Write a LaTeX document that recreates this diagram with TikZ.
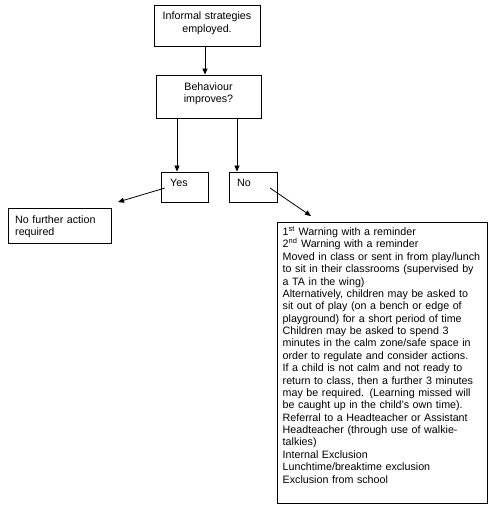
\documentclass[tikz,border=0pt]{standalone}
\usepackage{fontspec}
\setmainfont{Liberation Sans}
\usetikzlibrary{arrows.meta}
\begin{document}
\begin{tikzpicture}[x=1pt,y=-1pt,
  box/.style={draw=black,line width=0.9pt,inner sep=0pt,fill=white},
  txt/.style={inner sep=0pt,font=\fontsize{10.7}{12.375}\selectfont},
  arr/.style={draw=black,line width=0.8pt,-{Triangle[length=6pt,width=5pt]}}]
\useasboundingbox (0,0) rectangle (495,513);
\fill[white] (0,0) rectangle (495,513);
% boxes
\node[box,minimum width=106,minimum height=41] (b1) at (207,25.5) {};
\node[box,minimum width=105,minimum height=43] (b2) at (208.5,96.5) {};
\node[box,minimum width=47,minimum height=30] (yes) at (184.5,187) {};
\node[box,minimum width=48,minimum height=30] (no) at (253,187) {};
\node[box,minimum width=103,minimum height=35] (nfa) at (59.5,225.5) {};
\node[box,minimum width=210,minimum height=281] (big) at (382,362.5) {};
% texts
\node[txt,text width=104,align=center,anchor=base] (t1) at (207,20) {Informal strategies\\employed.};
\node[txt,text width=104,align=center,anchor=base] (t2) at (208.5,90.5) {Behaviour\\improves?};
\node[txt,anchor=base west] (ty) at (170,186) {Yes};
\node[txt,anchor=base west] (tn) at (237,186) {No};
\node[txt,text width=100,align=left,anchor=base west] (tnfa) at (15,223) {No further action\\required};
\node[txt,text width=205,align=left,anchor=base west] (tbig) at (282.5,235.5) {1\textsuperscript{st} Warning with a reminder\\
2\textsuperscript{nd} Warning with a reminder\\
Moved in class or sent in from play/lunch\\
to sit in their classrooms (supervised by\\
a TA in the wing)\\
Alternatively, children may be asked to\\
sit out of play (on a bench or edge of\\
playground) for a short period of time\\
Children may be asked to spend 3\\
minutes in the calm zone/safe space in\\
order to regulate and consider actions.\\
If a child is not calm and not ready to\\
return to class, then a further 3 minutes\\
may be required. (Learning missed will\\
be caught up in the child’s own time).\\
Referral to a Headteacher or Assistant\\
Headteacher (through use of walkie-\\
talkies)\\
Internal Exclusion\\
Lunchtime/breaktime exclusion\\
Exclusion from school};
% connectors
\draw[arr] (b1.south -| 205,0) -- (b2.north -| 205,0);
\draw[arr] (b2.south -| 177,0) -- (yes.north -| 177,0);
\draw[arr] (b2.south -| 237,0) -- (no.north -| 237,0);
\coordinate (ya) at (165,188);
\coordinate (yb) at (118,202);
\coordinate (na) at (270,188);
\coordinate (nb) at (311,216);
\draw[arr] (ya) -- (yb);
\draw[arr] (na) -- (nb);
\end{tikzpicture}
\end{document}
